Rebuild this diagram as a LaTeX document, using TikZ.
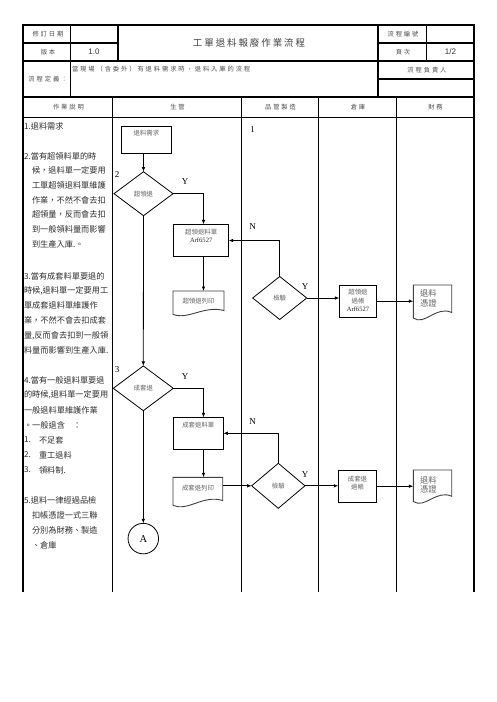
\documentclass[tikz,border=0pt]{standalone}
\usepackage{fontspec}
\setmainfont{Liberation Serif}
\newfontfamily\cjk{Noto Sans CJK TC}
\newfontfamily\cjksp[LetterSpace=30]{Noto Sans CJK TC}
\newfontfamily\cjktitle[LetterSpace=20]{Noto Sans CJK TC}
\newfontfamily\arialf{Liberation Sans}
\usetikzlibrary{shapes.geometric,arrows.meta,calc}

\newcommand\mydoc[5]{%
  \node[minimum width=#4pt,minimum height=#5pt] (#1) at (#2+#4/2,#3+#5/2) {};
  \draw[docline] (#2,#3) -- (#2+#4,#3) -- (#2+#4,#3+0.75*#5)
    .. controls (#2+0.6*#4,#3+0.55*#5) and (#2+0.3*#4,#3+1.12*#5) .. (#2,#3+0.9*#5) -- cycle;
}

\begin{document}
\begin{tikzpicture}[x=1pt,y=-1pt,
  every node/.style={inner sep=0pt,outer sep=0pt},
  grid/.style={line width=1.1pt,line cap=rect},
  hdr/.style={font=\cjksp\fontsize{6.3}{7}\selectfont,text=black!70},
  desc/.style={anchor=west,font=\cjk\fontsize{8.2}{9}\selectfont,text=black!82},
  lbl/.style={font=\cjk\fontsize{6.4}{7}\selectfont,text=black!62},
  big/.style={font=\cjk\fontsize{8.3}{9}\selectfont,text=black!62,anchor=west},
  latin/.style={font=\fontsize{6.6}{7}\selectfont,text=black!85},
  tag/.style={font=\fontsize{9}{10}\selectfont,text=black},
  box/.style={draw=black,line width=0.8pt,rectangle},
  dia/.style={draw=black,line width=0.8pt,diamond},
  docline/.style={draw=black!75,line width=0.9pt},
  flow/.style={line width=0.8pt,draw=black},
  arr/.style={flow,-{Latex[length=4.5pt,width=3.6pt]}}
]
\fill[white] (0,0) rectangle (496,702);
\useasboundingbox (0,0) rectangle (496,702);

% ---------- header table ----------
\draw[grid] (23,25) rectangle (474,97);
\draw[grid] (70.7,25) -- (70.7,97);
\draw[grid] (118,25) -- (118,61);
\draw[grid] (378,25) -- (378,97);
\draw[grid] (426.7,25) -- (426.7,61);
\draw[grid] (23,43) -- (118,43);
\draw[grid] (378,43) -- (474,43);
\draw[grid] (23,61) -- (474,61);
\draw[grid] (378,79) -- (474,79);

\node[hdr] (h1) at (48,34) {修訂日期};
\node[hdr] (h2) at (48,52) {版本};
\node[font=\arialf\fontsize{8}{9}\selectfont,text=black!80] (h3) at (94,52) {1.0};
\node[font=\cjktitle\fontsize{9.5}{11}\selectfont,text=black!75] (title) at (249,43) {工單退料報廢作業流程};
\node[hdr] (h4) at (403,34) {流程編號};
\node[hdr] (h5) at (403,52) {頁次};
\node[font=\arialf\fontsize{8}{9}\selectfont,text=black!80] (h6) at (450.5,52) {1/2};
\node[hdr] (h7) at (48,79) {流程定義：};
\node[hdr,anchor=west] (defn) at (72,68.7) {當現場（含委外）有退料需求時，退料入庫的流程};
\node[hdr] (h8) at (427,70) {流程負責人};

% ---------- lower table ----------
\draw[line width=1.7pt] (23,97) -- (474,97);
\draw[grid] (23,117.5) -- (474,117.5);
\foreach \xx in {23,112.5,241.3,318.7,396.3,474}
  \draw[grid] (\xx,97) -- (\xx,591.7);

\node[hdr] (c1) at (68.5,107.3) {作業說明};
\node[hdr] (c2) at (177.5,107.3) {生管};
\node[hdr] (c3) at (280.5,107.3) {品管製造};
\node[hdr] (c4) at (358,107.3) {倉庫};
\node[hdr] (c5) at (435.5,107.3) {財務};

% ---------- description column ----------
\node[desc] (l1) at (24,126) {1.退料需求};
\node[desc] (l2) at (24,156) {2.當有超領料單的時};
\node[desc] (l3) at (32,170.7) {候，退料單一定要用};
\node[desc] (l4) at (32,185.3) {工單超領退料單維護};
\node[desc] (l5) at (32,200) {作業，不然不會去扣};
\node[desc] (l6) at (32,214.7) {超領量，反而會去扣};
\node[desc] (l7) at (32,229.3) {到一般領料量而影響};
\node[desc] (l8) at (32,244) {到生產入庫.。};
\node[desc] (l9) at (24,276) {3.當有成套料單要退的};
\node[desc] (l10) at (24,290.7) {時候,退料單一定要用工};
\node[desc] (l11) at (24,305.7) {單成套退料單維護作};
\node[desc] (l12) at (24,320.7) {業，不然不會去扣成套};
\node[desc] (l13) at (24,335.7) {量,反而會去扣到一般領};
\node[desc] (l14) at (24,350.7) {料量而影響到生產入庫.};
\node[desc] (l15) at (24,380) {4.當有一般退料單要退};
\node[desc] (l16) at (24,395) {的時候,退料單一定要用};
\node[desc] (l17) at (24,410) {一般退料單維護作業};
\node[desc] (l18) at (24,425) {。一般退含　：};
\node[desc] (l19) at (24,440) {1.};
\node[desc] (l19b) at (39,440) {不足套};
\node[desc] (l20) at (24,455) {2.};
\node[desc] (l20b) at (39,455) {重工退料};
\node[desc] (l21) at (24,470) {3.};
\node[desc] (l21b) at (39,470) {領料制.};
\node[desc] (l22) at (24,500.7) {5.退料一律經過品檢};
\node[desc] (l23) at (32,515.3) {扣帳憑證一式三聯};
\node[desc] (l24) at (32,530) {分別為財務、製造};
\node[desc] (l25) at (32,545) {、倉庫};

% ---------- flow shapes ----------
\coordinate (col) at (203.5,0);

\node[box,minimum width=50.7pt,minimum height=26.6pt] (r1) at (146.4,140) {};
\node[lbl] (tr1) at (146.4,133.5) {退料需求};

\node[dia,minimum width=59pt,minimum height=44pt] (d1) at (143.5,193.7) {};
\node[lbl] (td1) at (143.5,193.7) {超領退};

\node[box,minimum width=55pt,minimum height=32.4pt] (r2) at (201.2,240.5) {};
\node[lbl] (tr2) at (201.2,231.7) {超領退料單};
\node[latin] (tr2b) at (201.2,240.3) {Arf6527};

\mydoc{doc1}{173}{291}{51}{26}
\node[lbl] (tdoc1) at (198.5,300.7) {超領退列印};

\node[dia,minimum width=60pt,minimum height=44.7pt] (d2) at (143.3,388.3) {};
\node[lbl] (td2) at (143.3,388.3) {成套退};

\node[box,minimum width=50pt,minimum height=31.7pt] (r3) at (198.3,433.3) {};
\node[lbl] (tr3) at (198.3,425) {成套退料單};

\mydoc{doc2}{173}{477.3}{49.7}{31}
\node[lbl] (tdoc2) at (198,488.3) {成套退列印};

\node[draw=black,line width=0.8pt,circle,minimum size=30.5pt] (A) at (143.3,538.6) {};
\node[font=\fontsize{10.5}{11}\selectfont] (tA) at (143.3,538.6) {A};

\node[dia,minimum width=54pt,minimum height=43pt] (k1) at (279.7,298) {};
\node[lbl] (tk1) at (279.7,298) {檢驗};

\node[dia,minimum width=53.3pt,minimum height=45pt] (k2) at (278.3,485.8) {};
\node[lbl] (tk2) at (278.3,485.8) {檢驗};

\node[box,minimum width=37.4pt,minimum height=32.3pt] (r4) at (358,301.2) {};
\node[lbl] (tr4a) at (358,292.3) {超領退};
\node[lbl] (tr4b) at (358,300.7) {過帳};
\node[latin] (tr4c) at (358,309.3) {Arf6527};

\node[box,minimum width=38.4pt,minimum height=32.3pt] (r5) at (357.5,486.2) {};
\node[lbl] (tr5a) at (357.5,479.3) {成套退};
\node[lbl] (tr5b) at (357.5,487) {過帳};

\mydoc{doc3}{413.3}{285}{38.4}{36.7}
\node[big] (tdoc3a) at (420,293.3) {退料};
\node[big] (tdoc3b) at (420,303.3) {憑證};

\mydoc{doc4}{413.3}{470}{38.4}{35}
\node[big] (tdoc4a) at (420,480) {退料};
\node[big] (tdoc4b) at (420,489.3) {憑證};

% ---------- marks ----------
\node[tag] (m1) at (252.5,130) {1};
\node[tag] (m2) at (117,174.5) {2};
\node[tag] (m3) at (117,370) {3};
\node[tag] (y1) at (185,182) {Y};
\node[tag] (y2) at (185,377) {Y};
\node[tag] (y3) at (305,286.7) {Y};
\node[tag] (y4) at (305,474.5) {Y};
\node[tag] (n1) at (252.7,226.7) {N};
\node[tag] (n2) at (252.7,421.7) {N};

% ---------- connectors ----------
\draw[arr] (r1.south -| d1.north) -- (d1.north);
\draw[arr] (d1.east) -| (col |- r2.north);
\draw[arr] (col |- r2.south) -- (col |- doc1.north);
\draw[arr] (d1.south) -- (d2.north);
\draw[arr] (d2.east) -| (col |- r3.north);
\draw[arr] (col |- r3.south) -- (col |- doc2.north);
\draw[arr] (d2.south) -- (A.north);
\draw[arr] (doc2.east |- k2.west) -- (k2.west);
\draw[arr] (k1.north) |- (r2.east);
\draw[arr] (k2.north) |- (r3.east);
\draw[arr] (k1.east) -- (k1.east -| r4.west);
\draw[arr] (r4.east) -- (r4.east -| doc3.west);
\draw[arr] (k2.east) -- (k2.east -| r5.west);
\draw[arr] (r5.east) -- (r5.east -| doc4.west);
\end{tikzpicture}
\end{document}
